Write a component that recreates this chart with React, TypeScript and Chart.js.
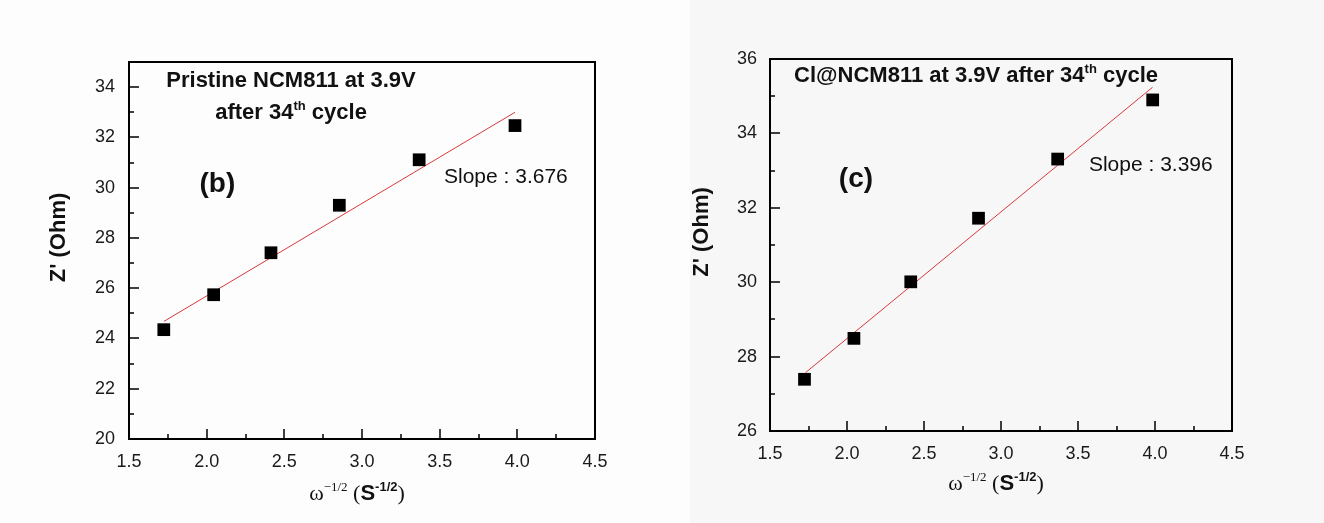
import React, { useEffect, useRef } from "react";
import { Chart, registerables } from "chart.js";

Chart.register(...registerables);

// ---------- data ----------
const omegaInvSqrt = [1.724, 2.045, 2.414, 2.854, 3.368, 3.985];
const pristineZ = [24.35, 25.74, 27.41, 29.3, 31.11, 32.47];
const clZ = [27.39, 28.49, 30.01, 31.72, 33.31, 34.9];

const pristineFitX = [1.725, 3.985];
const pristineFitY = [24.68, 33.0];
const clFitX = [1.731, 3.984];
const clFitY = [27.57, 35.24];

const xTickValues = [1.5, 2.0, 2.5, 3.0, 3.5, 4.0, 4.5];
const xTickLabels = ["1.5", "2.0", "2.5", "3.0", "3.5", "4.0", "4.5"];
const xMinorTicks = [1.75, 2.25, 2.75, 3.25, 3.75, 4.25];

const pristineYTicks = [20, 22, 24, 26, 28, 30, 32, 34];
const pristineYLabels = ["20", "22", "24", "26", "28", "30", "32", "34"];
const pristineYMinor = [21, 23, 25, 27, 29, 31, 33];

const clYTicks = [26, 28, 30, 32, 34, 36];
const clYLabels = ["26", "28", "30", "32", "34", "36"];
const clYMinor = [27, 29, 31, 33, 35];

const pristineTitle = "Pristine NCM811 at 3.9V";
const clTitle = "Cl@NCM811 at 3.9V after 34";
const pristineSlope = "Slope : 3.676";
const clSlope = "Slope : 3.396";

// ---------- styling ----------
const SANS = '"Liberation Sans", Arial, sans-serif';
const SERIF = '"Liberation Serif", "Times New Roman", serif';
const H = 523;

type Part = { text: string; font: string; dy?: number };
type Note = { parts: Part[]; x: number; y: number; align: "center" | "left" };

type PanelCfg = {
  left: number;
  width: number;
  bg: string;
  area: { left: number; right: number; top: number; bottom: number };
  yMin: number;
  yMax: number;
  yTicks: number[];
  yLabels: string[];
  yMinor: number[];
  pts: number[];
  fitX: number[];
  fitY: number[];
  notes: Note[];
  yTitleDx: number;
  yTitleDy: number;
  xTitleDx: number;
  xTitleDy: number;
  yPad: number;
};

const titleFont = `bold 22px ${SANS}`;
const supFont = `bold 13px ${SANS}`;

const xTitleParts: Part[] = [
  { text: "\u03c9", font: `22px ${SERIF}` },
  { text: "\u22121/2", font: `13px ${SERIF}`, dy: -9 },
  { text: " (", font: `22px ${SERIF}` },
  { text: "S", font: `bold 22px ${SANS}` },
  { text: "-1/2", font: `bold 13px ${SANS}`, dy: -9 },
  { text: ")", font: `22px ${SERIF}` },
];

const panels: PanelCfg[] = [
  {
    left: 0,
    width: 690,
    bg: "#fdfdfd",
    area: { left: 129, right: 595, top: 62, bottom: 439 },
    yMin: 20,
    yMax: 35,
    yTicks: pristineYTicks,
    yLabels: pristineYLabels,
    yMinor: pristineYMinor,
    pts: pristineZ,
    fitX: pristineFitX,
    fitY: pristineFitY,
    notes: [
      { parts: [{ text: pristineTitle, font: titleFont }], x: 2.543, y: 34.0, align: "center" },
      {
        parts: [
          { text: "after 34", font: titleFont },
          { text: "th", font: supFont, dy: -9 },
          { text: " cycle", font: titleFont },
        ],
        x: 2.543,
        y: 32.73,
        align: "center",
      },
      { parts: [{ text: "(b)", font: `bold 28px ${SANS}` }], x: 2.069, y: 29.82, align: "center" },
      { parts: [{ text: pristineSlope, font: `21px ${SANS}` }], x: 3.528, y: 30.17, align: "left" },
    ],
    yTitleDx: -70,
    yTitleDy: -13,
    xTitleDx: -5,
    xTitleDy: 61,
    yPad: 14,
  },
  {
    left: 690,
    width: 634,
    bg: "#f7f7f7",
    area: { left: 80, right: 542, top: 59, bottom: 431 },
    yMin: 26,
    yMax: 36,
    yTicks: clYTicks,
    yLabels: clYLabels,
    yMinor: clYMinor,
    pts: clZ,
    fitX: clFitX,
    fitY: clFitY,
    notes: [
      {
        parts: [
          { text: clTitle, font: titleFont },
          { text: "th", font: supFont, dy: -9 },
          { text: " cycle", font: titleFont },
        ],
        x: 2.838,
        y: 35.39,
        align: "center",
      },
      { parts: [{ text: "(c)", font: `bold 28px ${SANS}` }], x: 2.058, y: 32.55, align: "center" },
      { parts: [{ text: clSlope, font: `21px ${SANS}` }], x: 3.571, y: 33.0, align: "left" },
    ],
    yTitleDx: -68,
    yTitleDy: -13,
    xTitleDx: -5,
    xTitleDy: 59,
    yPad: 13,
  },
];

function drawParts(ctx: CanvasRenderingContext2D, parts: Part[], x: number, y: number, align: "center" | "left") {
  let total = 0;
  const widths = parts.map((p) => {
    ctx.font = p.font;
    const w = ctx.measureText(p.text).width;
    total += w;
    return w;
  });
  let cx = align === "center" ? x - total / 2 : x;
  ctx.textAlign = "left";
  ctx.textBaseline = "alphabetic";
  parts.forEach((p, i) => {
    ctx.font = p.font;
    ctx.fillText(p.text, cx, y + (p.dy || 0));
    cx += widths[i];
  });
}

function Panel({ cfg }: { cfg: PanelCfg }) {
  const ref = useRef<HTMLCanvasElement | null>(null);

  useEffect(() => {
    if (!ref.current) return;
    const a = cfg.area;

    const decor = {
      id: "decor",
      afterDraw(chart: any) {
        const ctx: CanvasRenderingContext2D = chart.ctx;
        const ca = chart.chartArea;
        const xs = chart.scales.x;
        const ys = chart.scales.y;
        ctx.save();
        ctx.strokeStyle = "#000";
        ctx.lineWidth = 1.5;
        ctx.beginPath();
        xTickValues.forEach((v) => {
          if (v <= 1.5 || v >= 4.5) return;
          const px = Math.round(xs.getPixelForValue(v));
          ctx.moveTo(px, ca.bottom);
          ctx.lineTo(px, ca.bottom - 10);
        });
        xMinorTicks.forEach((v) => {
          const px = Math.round(xs.getPixelForValue(v));
          ctx.moveTo(px, ca.bottom);
          ctx.lineTo(px, ca.bottom - 5);
        });
        cfg.yTicks.forEach((v) => {
          if (v <= cfg.yMin || v >= cfg.yMax) return;
          const py = Math.round(ys.getPixelForValue(v));
          ctx.moveTo(ca.left, py);
          ctx.lineTo(ca.left + 10, py);
        });
        cfg.yMinor.forEach((v) => {
          if (v <= cfg.yMin || v >= cfg.yMax) return;
          const py = Math.round(ys.getPixelForValue(v));
          ctx.moveTo(ca.left, py);
          ctx.lineTo(ca.left + 5, py);
        });
        ctx.stroke();

        ctx.lineWidth = 2;
        ctx.strokeRect(ca.left, ca.top, ca.right - ca.left, ca.bottom - ca.top);

        ctx.fillStyle = "#111";
        cfg.notes.forEach((n) => {
          drawParts(ctx, n.parts, xs.getPixelForValue(n.x), ys.getPixelForValue(n.y), n.align);
        });

        // y axis title
        ctx.save();
        ctx.translate(ca.left + cfg.yTitleDx, (ca.top + ca.bottom) / 2 + cfg.yTitleDy);
        ctx.rotate(-Math.PI / 2);
        ctx.font = `bold 22px ${SANS}`;
        ctx.textAlign = "center";
        ctx.textBaseline = "middle";
        ctx.fillText("Z' (Ohm)", 0, 0);
        ctx.restore();

        // x axis title
        drawParts(ctx, xTitleParts, (ca.left + ca.right) / 2 + cfg.xTitleDx, ca.bottom + cfg.xTitleDy, "center");
        ctx.restore();
      },
    };

    const chart = new Chart(ref.current, {
      type: "scatter",
      data: {
        datasets: [
          {
            type: "scatter",
            label: "data",
            data: omegaInvSqrt.map((x, i) => ({ x, y: cfg.pts[i] })),
            pointStyle: "rect",
            pointRadius: 9,
            pointHoverRadius: 9,
            backgroundColor: "#000",
            borderColor: "#000",
            borderWidth: 0,
          } as any,
          {
            type: "line",
            label: "fit",
            data: cfg.fitX.map((x, i) => ({ x, y: cfg.fitY[i] })),
            borderColor: "#d8383a",
            borderWidth: 1,
            pointRadius: 0,
            fill: false,
          } as any,
        ],
      },
      options: {
        responsive: false,
        maintainAspectRatio: false,
        animation: false,
        events: [],
        layout: {
          padding: { left: 0, top: a.top, right: cfg.width - a.right, bottom: 0 },
        },
        plugins: {
          legend: { display: false },
          tooltip: { enabled: false },
          title: { display: false },
        },
        scales: {
          x: {
            type: "linear",
            position: "bottom",
            min: 1.5,
            max: 4.5,
            afterBuildTicks: (s: any) => {
              s.ticks = xTickValues.map((v) => ({ value: v }));
            },
            afterFit: (s: any) => {
              s.height = H - a.bottom;
            },
            grid: { display: false, drawTicks: false },
            border: { display: false },
            ticks: {
              padding: 12,
              maxRotation: 0,
              autoSkip: false,
              color: "#1a1a1a",
              font: { family: SANS, size: 18 },
              callback: (_v: any, i: number) => xTickLabels[i],
            },
          },
          y: {
            type: "linear",
            position: "left",
            min: cfg.yMin,
            max: cfg.yMax,
            afterBuildTicks: (s: any) => {
              s.ticks = cfg.yTicks.map((v) => ({ value: v }));
            },
            afterFit: (s: any) => {
              s.width = a.left;
            },
            grid: { display: false, drawTicks: false },
            border: { display: false },
            ticks: {
              padding: cfg.yPad,
              autoSkip: false,
              color: "#1a1a1a",
              font: { family: SANS, size: 18 },
              callback: (_v: any, i: number) => cfg.yLabels[i],
            },
          },
        },
      } as any,
      plugins: [decor],
    });
    return () => chart.destroy();
  }, [cfg]);

  return (
    <canvas
      ref={ref}
      width={cfg.width}
      height={H}
      style={{ position: "absolute", left: cfg.left, top: 0, width: cfg.width, height: H, background: cfg.bg }}
    />
  );
}

export default function App() {
  return (
    <div style={{ position: "fixed", left: 0, top: 0, width: 1324, height: H, background: "#fdfdfd", overflow: "hidden" }}>
      {panels.map((p, i) => (
        <Panel key={i} cfg={p} />
      ))}
    </div>
  );
}
